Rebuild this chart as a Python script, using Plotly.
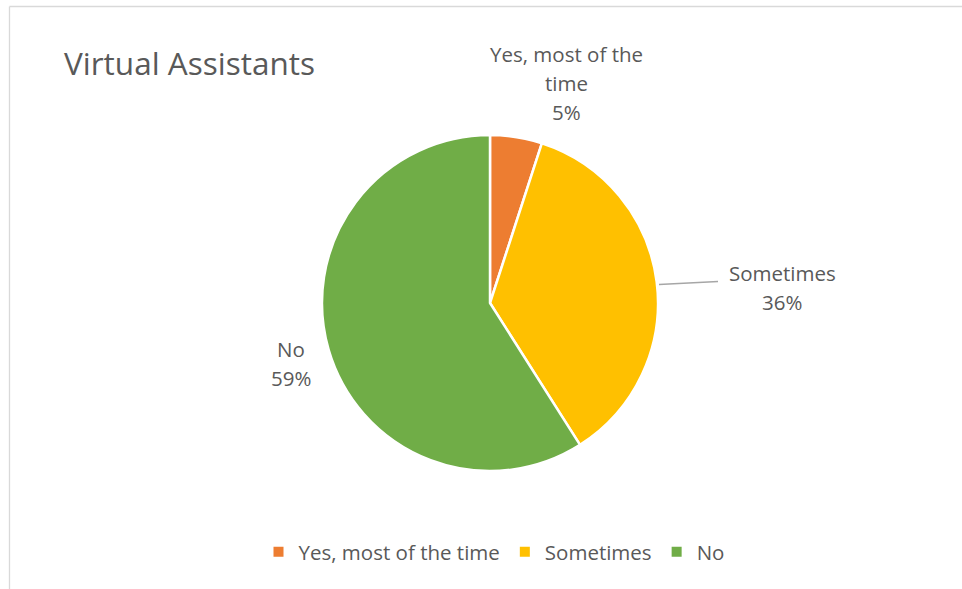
import plotly.graph_objects as go

categories = ["Yes, most of the time", "Sometimes", "No"]
values = [5, 36, 59]
colors = ["#ED7D31", "#FFC000", "#70AD47"]
label_lines = [["Yes, most of the", "time"], ["Sometimes"], ["No"]]

W, H = 962, 589
def px(x):
    return x / W
def py(y):
    return 1 - y / H

FONT = "Open Sans"
TXT = "#595959"

fig = go.Figure(go.Pie(
    labels=categories,
    values=values,
    marker=dict(colors=colors, line=dict(color="white", width=2.5)),
    sort=False,
    direction="clockwise",
    rotation=0,
    textinfo="none",
    hoverinfo="label+percent",
    domain=dict(x=[px(322), px(658)], y=[py(471), py(135)]),
))

total = sum(values)
# (center x, first line center y) for each label block
label_pos = [(566, 54), (782, 273), (291, 349)]
LINE = 29
annotations = []
for lines, v, (x, y0) in zip(label_lines, values, label_pos):
    all_lines = lines + [f"{round(100 * v / total)}%"]
    for i, t in enumerate(all_lines):
        annotations.append(dict(
            x=px(x), y=py(y0 + i * LINE), xref="paper", yref="paper",
            text=t, showarrow=False, xanchor="center", yanchor="middle", align="center",
            font=dict(family=FONT, size=20.5, color=TXT),
        ))
annotations.append(dict(
    x=px(62), y=py(62), xref="paper", yref="paper",
    text="Virtual Assistants", showarrow=False, xanchor="left", yanchor="middle",
    font=dict(family=FONT, size=31.5, color=TXT),
))

shapes = [
    dict(type="line", xref="paper", yref="paper", x0=px(9.5), x1=1, y0=py(6.5), y1=py(6.5),
         line=dict(color="#D9D9D9", width=1.3)),
    dict(type="line", xref="paper", yref="paper", x0=px(9.5), x1=px(9.5), y0=py(6.5), y1=0,
         line=dict(color="#D9D9D9", width=1.3)),
    dict(type="line", xref="paper", yref="paper", x0=px(659), x1=px(718), y0=py(284.5), y1=py(281.5),
         line=dict(color="#A6A6A6", width=1.3)),
]

fig.update_layout(
    width=W, height=H,
    margin=dict(l=0, r=0, t=0, b=0),
    paper_bgcolor="white",
    plot_bgcolor="white",
    showlegend=True,
    legend=dict(orientation="h", x=px(494), xanchor="center", y=py(552), yanchor="middle",
                font=dict(family=FONT, size=20.5, color=TXT), itemsizing="constant",
                traceorder="normal"),
    annotations=annotations,
    shapes=shapes,
)

fig.write_html("out.html")
